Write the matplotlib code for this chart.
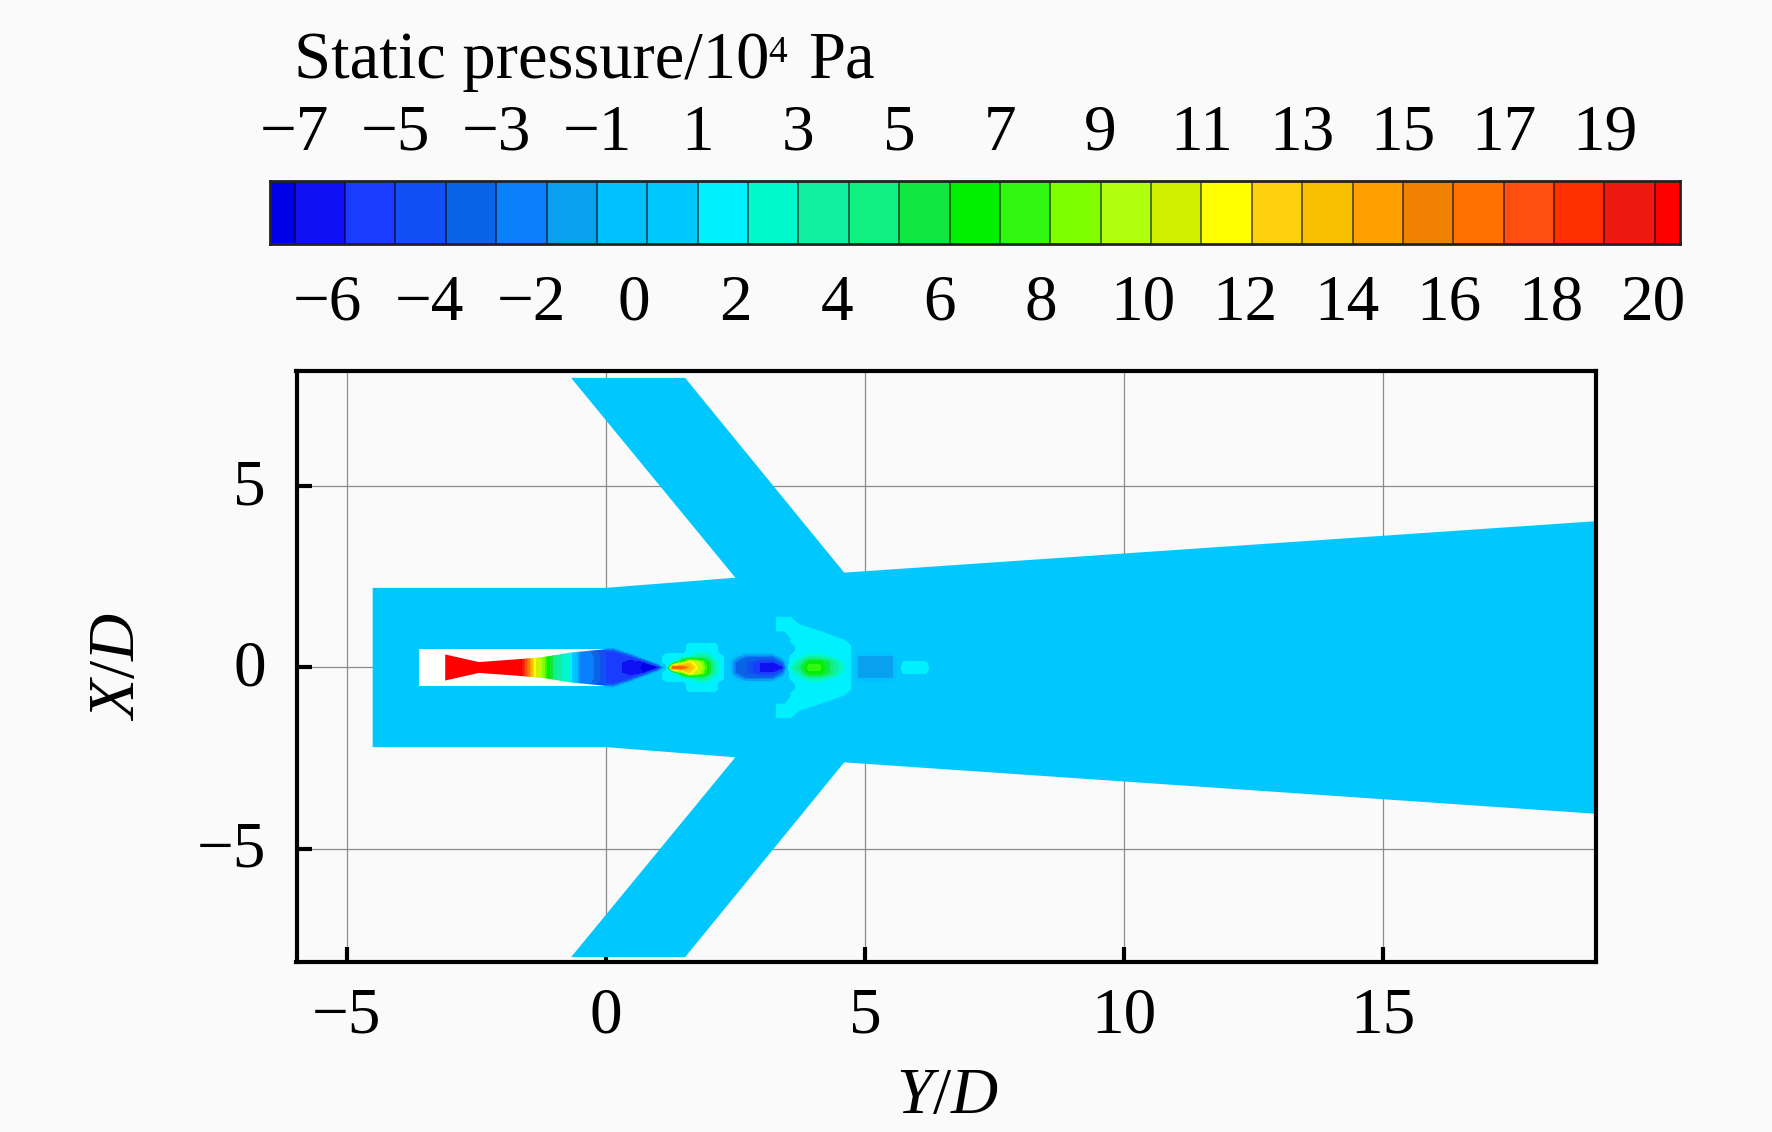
import matplotlib
matplotlib.use('Agg')
import matplotlib.pyplot as plt
from matplotlib.colors import ListedColormap, BoundaryNorm
from matplotlib.patches import Polygon
from matplotlib.transforms import blended_transform_factory, ScaledTranslation
import numpy as np

plt.rcParams['font.family'] = ['Liberation Serif', 'DejaVu Serif']
plt.rcParams['mathtext.fontset'] = 'custom'
plt.rcParams['mathtext.rm'] = 'Liberation Serif'
plt.rcParams['mathtext.it'] = 'Liberation Serif:italic'

# ------------ data ------------------------------------------ #

# colour bands of the legend
levels = [-7.5, -7, -6, -5, -4, -3, -2, -1, 0, 1, 2, 3, 4, 5, 6, 7, 8, 9, 10, 11, 12, 13,
          14, 15, 16, 17, 18, 19, 20, 20.5]
band_colors = ['#0000e6', '#1010f5', '#1a3cff', '#1050f5', '#0a64e6', '#0a80ff', '#0aa0f0',
               '#00c0ff', '#00c8ff', '#00f0ff', '#00f8cc', '#10f0a0', '#10f080', '#10e840',
               '#00f000', '#30f810', '#80ff00', '#b0ff10', '#d0f000', '#ffff00', '#ffd010',
               '#f8c000', '#ffa000', '#f08000', '#ff7000', '#ff5010', '#ff3000', '#ee1a10',
               '#ff0000']
upper_ticks = [-7, -5, -3, -1, 1, 3, 5, 7, 9, 11, 13, 15, 17, 19]
lower_ticks = [-6, -4, -2, 0, 2, 4, 6, 8, 10, 12, 14, 16, 18, 20]

# upper half of the flow domain, mirrored about X/D=0
domain_y = [-4.5, 0.0, 2.5, -0.67, 1.53, 4.6, 19.2]
domain_x = [2.2, 2.2, 2.48, 8.0, 8.0, 2.62, 4.05]

# nozzle cavity (left blank)
cavity_y = [-3.6, 0.0]
cavity_half = [0.5, 0.5]

# edge of the plume inside the cavity, then the strip holding the shock cells
plume_y = [-3.1, -2.45, -1.59, -1.2, -0.69, -0.05, 0.0, 0.0, 6.5]
plume_half = [0.36, 0.15, 0.24, 0.29, 0.41, 0.5, 0.5, 0.75, 0.75]

# chevron of slightly raised pressure at the duct junction
chevron_y = [3.28, 3.57, 3.73, 4.2, 4.66, 4.82, 4.85, 3.73, 3.45, 3.28]
chevron_x = [1.4, 1.4, 1.2, 0.98, 0.74, 0.45, 0.0, 0.5, 1.0, 1.0]
chevron_p = 1.5

# static pressure, one row per station, columns at |X/D| = jet_rows
jet_rows = [0.0, 0.15, 0.3, 0.45, 0.6, 0.75]
jet_stations = [-3.2, -1.62, -1.49, -1.38, -1.24, -1.11, -0.95, -0.76, -0.63, -0.5, -0.31, -0.12,
                0.0, 0.14, 0.46, 0.72, 1.0, 1.17, 1.3, 1.49, 1.62, 1.75, 1.87, 1.97, 2.1, 2.2,
                2.35, 2.51, 2.71, 2.96, 3.22, 3.41, 3.51, 3.6, 3.73, 3.92, 4.12, 4.31, 4.5, 4.66,
                4.78, 4.88, 5.53, 5.65, 5.75, 6.17, 6.3, 6.5]
jet_p = [
    [20.2, 20.2, 20.2, 20.2, 20.2, 20.2],
    [20.2, 20.2, 20.2, 20.2, 20.2, 20.2],
    [15.5, 15.5, 15.5, 15.5, 15.5, 15.5],
    [11.5, 11.5, 11.5, 11.5, 11.5, 11.5],
    [9.0, 9.0, 9.0, 9.0, 9.0, 9.0],
    [6.5, 6.5, 6.5, 6.5, 6.5, 6.5],
    [3.5, 3.5, 3.5, 3.5, 3.5, 3.5],
    [2.5, 2.5, 2.5, 2.5, 2.5, 2.5],
    [0.5, 0.5, 0.5, 0.5, 0.5, 0.5],
    [-2.0, -2.0, -2.0, -2.0, -2.0, -2.0],
    [-2.5, -2.5, -2.5, -3.0, -3.0, -3.0],
    [-4.0, -4.0, -4.0, -4.5, -4.5, -4.5],
    [-5.0, -5.0, -5.0, -5.0, 0.5, 0.5],
    [-5.5, -5.5, -5.5, -5.0, 0.5, 0.5],
    [-6.5, -6.5, -5.5, 0.5, 0.5, 0.5],
    [-7.2, -7.0, 0.5, 0.5, 0.5, 0.5],
    [-7.3, 0.5, 0.5, 0.5, 0.5, 0.5],
    [0.5, 1.5, 1.5, 0.5, 0.5, 0.5],
    [18.0, 1.5, 1.5, 0.5, 0.5, 0.5],
    [17.0, 8.0, 1.5, 0.5, 0.5, 0.5],
    [14.0, 12.0, 2.0, 1.5, 1.5, 0.5],
    [11.5, 10.0, 3.0, 1.5, 1.5, 0.5],
    [9.0, 8.0, 4.0, 1.5, 1.5, 0.5],
    [6.5, 6.0, 3.0, 1.5, 1.5, 0.5],
    [3.0, 3.0, 1.5, 1.5, 1.5, 0.5],
    [1.5, 1.5, 1.5, 0.5, 0.5, 0.5],
    [0.5, 0.5, 0.5, 0.5, 0.5, 0.5],
    [-3.0, -3.0, -1.0, 0.5, 0.5, 0.5],
    [-4.0, -4.0, -3.0, 0.5, 0.5, 0.5],
    [-6.0, -6.0, -3.0, 0.5, 0.5, 0.5],
    [-6.5, -6.0, -3.0, 0.5, 0.5, 0.5],
    [-7.0, -3.0, 0.0, 0.5, 0.5, 0.5],
    [0.5, 0.5, 0.5, 0.5, 0.5, 0.5],
    [3.0, 2.0, 1.5, 0.5, 0.5, 1.5],
    [4.5, 3.0, 1.5, 1.5, 1.5, 1.5],
    [7.5, 6.5, 3.0, 1.5, 1.5, 1.5],
    [7.5, 6.5, 3.0, 1.5, 1.5, 1.5],
    [5.0, 5.0, 2.0, 1.5, 1.5, 1.5],
    [3.0, 2.5, 1.5, 1.5, 1.5, 1.5],
    [1.5, 1.5, 1.5, 1.5, 1.5, 0.5],
    [0.5, 0.5, 0.5, 0.5, 0.5, 0.5],
    [-1.5, -1.5, -1.2, 0.5, 0.5, 0.5],
    [-1.5, -1.5, -1.2, 0.5, 0.5, 0.5],
    [0.5, 0.5, 0.5, 0.5, 0.5, 0.5],
    [1.5, 1.05, 0.5, 0.5, 0.5, 0.5],
    [1.5, 1.05, 0.5, 0.5, 0.5, 0.5],
    [0.5, 0.5, 0.5, 0.5, 0.5, 0.5],
    [0.5, 0.5, 0.5, 0.5, 0.5, 0.5],
]

# ------------------- End of data --------------------------#

W, H = 1772, 1132
BG = '#fafafa'
FS = 47


def px_axes(left, top, right, bottom):
    return [left / W, 1 - bottom / H, (right - left) / W, (bottom - top) / H]


def mirror(xs, ys):
    xs = np.asarray(xs, float)
    ys = np.asarray(ys, float)
    return np.column_stack([np.r_[xs, xs[::-1]], np.r_[ys, -ys[::-1]]])


def minus(v):
    return str(v).replace('-', '\u2212')


cmap = ListedColormap(band_colors)
norm = BoundaryNorm(levels, cmap.N)

fig = plt.figure(figsize=(W / 100, H / 100), dpi=100, facecolor=BG)

# legend bar
cax = fig.add_axes(px_axes(269.5, 181, 1680, 244))
cax.pcolormesh(levels, [0, 1], np.array(levels[:-1]).reshape(1, -1) + 0.01, cmap=cmap, norm=norm)
cax.vlines(levels[1:-1], 0, 1, color='k', lw=1.4, alpha=0.55)
cax.set(xlim=(levels[0], levels[-1]), ylim=(0, 1), yticks=[])
cax.set_xticks(upper_ticks, [minus(v) for v in upper_ticks])
cax.tick_params(axis='x', length=0, top=False, bottom=False, labeltop=True, labelbottom=False,
                labelsize=FS, pad=12.5)
for s in cax.spines.values():
    s.set_linewidth(2)
    s.set_color('#222222')
lower_tr = blended_transform_factory(cax.transData, fig.transFigure)
for v in lower_ticks:
    # the lower row is spaced a little wider than the bands
    cax.text(v - 0.34 + (v + 6) * 0.0114, 1 - 320 / H, minus(v), transform=lower_tr,
             ha='center', va='baseline', fontsize=FS, clip_on=False)

# legend title, exponent set smaller than mathtext would
fig.text(294 / W, 1 - 78 / H, 'Static pressure/10', ha='left', va='baseline', fontsize=48)
fig.text(768 / W, 1 - 62 / H, '4', ha='left', va='baseline', fontsize=27)
fig.text(808 / W, 1 - 78 / H, 'Pa', ha='left', va='baseline', fontsize=48)

# flow field
ax = fig.add_axes(px_axes(296.5, 371, 1596, 962), facecolor=BG)
ax.grid(True, color='#8c8c8c', lw=0.9, zorder=0)
ax.set_axisbelow(True)
ax.add_patch(Polygon(mirror(domain_y, domain_x), closed=True, fc=band_colors[8], ec='none', zorder=2))
ax.add_patch(Polygon(mirror(cavity_y, cavity_half), closed=True, fc='white', ec='none', zorder=3))
ax.add_patch(Polygon(mirror(chevron_y, chevron_x), closed=True, fc=cmap(norm(chevron_p)), ec='none', zorder=3))

table = np.array(jet_p)
field = np.hstack([table[:, :0:-1], table])
rows = np.r_[-np.array(jet_rows[:0:-1]), jet_rows]
cs = ax.contourf(jet_stations, rows, field.T, levels=levels, cmap=cmap, norm=norm, zorder=4)
clip = Polygon(mirror(plume_y, plume_half), closed=True, transform=ax.transData, fc='none', ec='none')
ax.add_patch(clip)
cs.set_clip_path(clip)

ax.set(xlim=(-5.97, 19.11), ylim=(-8.135, 8.19), xticks=[-5, 0, 5, 10, 15], yticks=[-5, 0, 5])
ax.set_xticklabels([minus(v) for v in [-5, 0, 5, 10, 15]])
ax.set_yticklabels([minus(v) for v in [-5, 0, 5]])
ax.tick_params(axis='both', direction='in', length=11, width=3, labelsize=FS)
ax.tick_params(axis='x', pad=18)
ax.tick_params(axis='y', pad=22)
# y labels sit a little higher than the default centring
lift = ScaledTranslation(0, 4.5 / 100, fig.dpi_scale_trans)
for t in ax.get_yticklabels():
    t.set_transform(t.get_transform() + lift)
for s in ax.spines.values():
    s.set_linewidth(3)
    s.set_zorder(6)

fig.text(947 / W, 1 - 1113 / H, '$\\mathit{Y/D}$', ha='center', va='baseline', fontsize=FS)
fig.text(118 / W, 1 - 667 / H, '$\\mathit{X/D}$', ha='center', va='center', rotation=90, fontsize=FS)

plt.savefig('out.png', dpi=100, facecolor=BG)
